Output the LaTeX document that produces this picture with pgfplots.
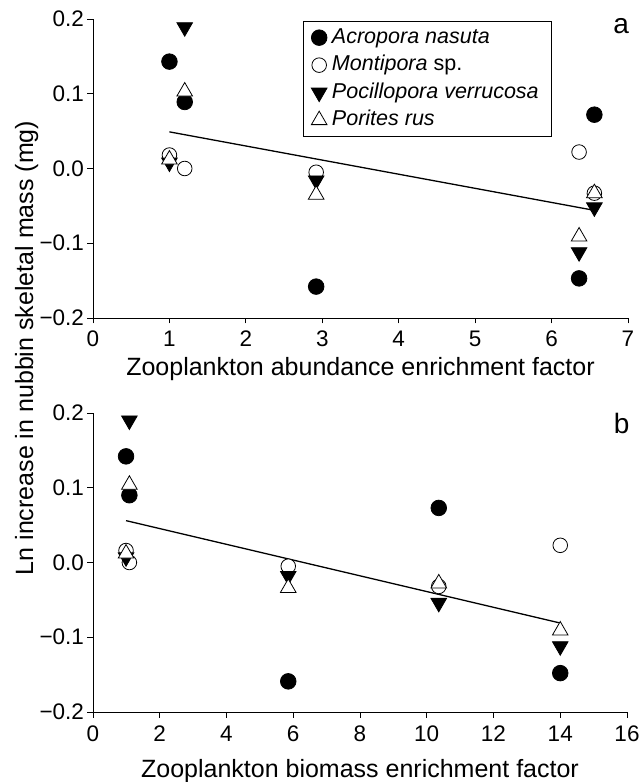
\documentclass[border=0pt]{standalone}
\usepackage{fontspec}
\setmainfont{Liberation Sans}
\usepackage{pgfplots}
\pgfplotsset{compat=1.18}

\pgfplotsset{
 myax/.style={
  scale only axis, axis lines*=left,
  tick align=outside, major tick length=5.5pt,
  tick style={black, line width=0.9pt},
  axis line style={line width=0.9pt},
  ymin=-0.2, ymax=0.2, ytick={-0.2,-0.1,0,0.1,0.2},
  yticklabels={−0.2,−0.1,0.0,0.1,0.2},
  tick label style={font=\fontsize{22.5}{27}\selectfont},
  xticklabel style={anchor=base, yshift=-23.5pt},
  /pgf/number format/assume math mode=true,
  label style={font=\fontsize{25}{30}\selectfont},
  clip=false,
  legend style={draw=black, line width=0.8pt, font=\fontsize{21.5}{26}\selectfont,
    legend cell align=left, inner xsep=8pt, inner ysep=2.5pt,
    nodes={text height=16.5pt, text depth=5pt, inner ysep=3pt, inner xsep=5pt}},
  legend image code/.code={\draw[##1] plot coordinates {(8pt,0pt)};},
 },
 pA/.style={only marks, mark=*, mark size=7.8pt, mark options={draw=black, fill=black, line width=0.8pt}},
 pM/.style={only marks, mark=*, mark size=7.3pt, mark options={draw=black, fill=white, line width=0.8pt}},
 pP/.style={only marks, mark=triangle*, mark size=9pt, mark options={draw=black, fill=black, rotate=180, line width=0.8pt}},
 pR/.style={only marks, mark=triangle*, mark size=9pt, mark options={draw=black, fill=white, line width=0.8pt}},
}

\begin{document}
\begin{tikzpicture}[x=1pt,y=1pt]
\path[use as bounding box] (0,0) rectangle (643,782);

% ---------- panel a ----------
\begin{axis}[myax, at={(93pt,464pt)}, anchor=south west,
  width=535pt, height=299pt, xmin=0, xmax=7, xtick={0,1,...,7},
  xlabel={Zooplankton abundance enrichment factor},
  xlabel style={at={(axis description cs:0.5,0)}, anchor=base, yshift=-58pt},
  legend style={at={(0.3925,0.9933)}, anchor=north west}]
\addplot[pA] coordinates {(1.0,0.143) (1.2,0.089) (2.92,-0.158) (6.36,-0.147) (6.56,0.072)};
\addlegendentry{\textit{Acropora nasuta}}
\addplot[pM] coordinates {(1.0,0.018) (1.2,0.0) (2.92,-0.005) (6.36,0.022) (6.56,-0.033)};
\addlegendentry{\textit{Montipora} sp.}
\addplot[pP] coordinates {(1.0,0.008) (1.2,0.189) (2.92,-0.016) (6.36,-0.112) (6.56,-0.052)};
\addlegendentry{\textit{Pocillopora verrucosa}}
\addplot[pR] coordinates {(1.0,0.012) (1.2,0.103) (2.92,-0.035) (6.36,-0.091) (6.56,-0.033)};
\addlegendentry{\textit{Porites rus}}
\addplot[black, line width=1.3pt, forget plot] coordinates {(1.0,0.049) (6.56,-0.056)};
\node[anchor=base, font=\fontsize{28}{32}\selectfont] at (rel axis cs:0.987,0.95) {a};
\end{axis}

% ---------- panel b ----------
\begin{axis}[myax, at={(93pt,70pt)}, anchor=south west,
  width=534pt, height=299pt, xmin=0, xmax=16, xtick={0,2,...,16},
  xlabel={Zooplankton biomass enrichment factor},
  xlabel style={at={(axis description cs:0.5,0)}, anchor=base, yshift=-65pt}]
\addplot[pA] coordinates {(0.99,0.142) (1.09,0.090) (5.85,-0.159) (10.36,0.073) (14.0,-0.148)};
\addplot[pM] coordinates {(0.99,0.016) (1.09,0.0) (5.85,-0.005) (10.36,-0.032) (14.0,0.023)};
\addplot[pP] coordinates {(0.99,0.007) (1.09,0.190) (5.85,-0.018) (10.36,-0.054) (14.0,-0.112)};
\addplot[pR] coordinates {(0.99,0.012) (1.09,0.104) (5.85,-0.034) (10.36,-0.028) (14.0,-0.091)};
\addplot[black, line width=1.3pt] coordinates {(0.99,0.056) (14.0,-0.081)};
\node[anchor=base, font=\fontsize{28}{32}\selectfont] at (rel axis cs:0.99,0.93) {b};
\end{axis}

\node[rotate=90, anchor=base, font=\fontsize{25}{30}\selectfont] at (33,434) {Ln increase in nubbin skeletal mass (mg)};
\end{tikzpicture}
\end{document}
